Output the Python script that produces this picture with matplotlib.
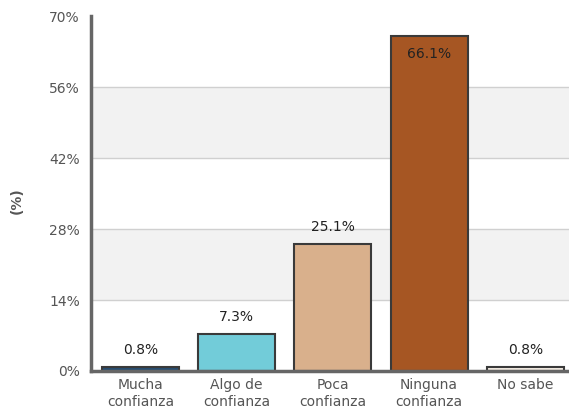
import matplotlib
matplotlib.use("Agg")
import matplotlib.pyplot as plt

categories = ["Mucha\nconfianza", "Algo de\nconfianza", "Poca\nconfianza", "Ninguna\nconfianza", "No sabe"]
values = [0.8, 7.3, 25.1, 66.1, 0.8]
labels = ["0.8%", "7.3%", "25.1%", "66.1%", "0.8%"]
colors = ["#264d73", "#72ccd9", "#d9b08c", "#a65623", "#f7efe6"]
yticks = [0, 14, 28, 42, 56, 70]

fig = plt.figure(figsize=(5.69, 4.13), dpi=100)
ax = fig.add_axes([91/569, 1-371/413, 478/569, (371-16)/413])

for i in range(len(yticks) - 1):
    if i % 2 == 1:
        ax.axhspan(yticks[i], yticks[i+1], color="#f2f2f2", zorder=0, lw=0)
for t in yticks[1:-1]:
    ax.axhline(t, color="#d0d0d0", lw=1, zorder=1)

x = range(len(categories))
ax.bar(x, values, width=0.8, color=colors, edgecolor="#3a3a3a", linewidth=1.5, zorder=3)

for i, (v, lab) in enumerate(zip(values, labels)):
    if v > 60:
        ax.text(i, v - 2.3, lab, ha="center", va="top", fontsize=10, color="#222222", zorder=4)
    else:
        ax.text(i, v + 2.0, lab, ha="center", va="bottom", fontsize=10, color="#222222", zorder=4)

ax.set_xlim(-0.515, 4.455)
ax.set_ylim(0, 70)
ax.set_yticks(yticks)
ax.set_yticklabels([f"{t}%" for t in yticks], fontsize=10, color="#555555")
ax.set_xticks(list(x))
ax.set_xticklabels(categories, fontsize=10, color="#555555", linespacing=1.25)
ax.tick_params(axis="x", length=0, pad=5)
ax.tick_params(axis="y", length=0, pad=8)

for s in ["top", "right"]:
    ax.spines[s].set_visible(False)
for s in ["left", "bottom"]:
    ax.spines[s].set_color("#666666")
    ax.spines[s].set_linewidth(2.5)
    ax.spines[s].set_zorder(5)

ax.set_ylabel("(%)", fontsize=10, fontweight="bold", color="#555555")
ax.yaxis.set_label_coords(-0.14, 0.48)

fig.savefig("out.png", dpi=100)
